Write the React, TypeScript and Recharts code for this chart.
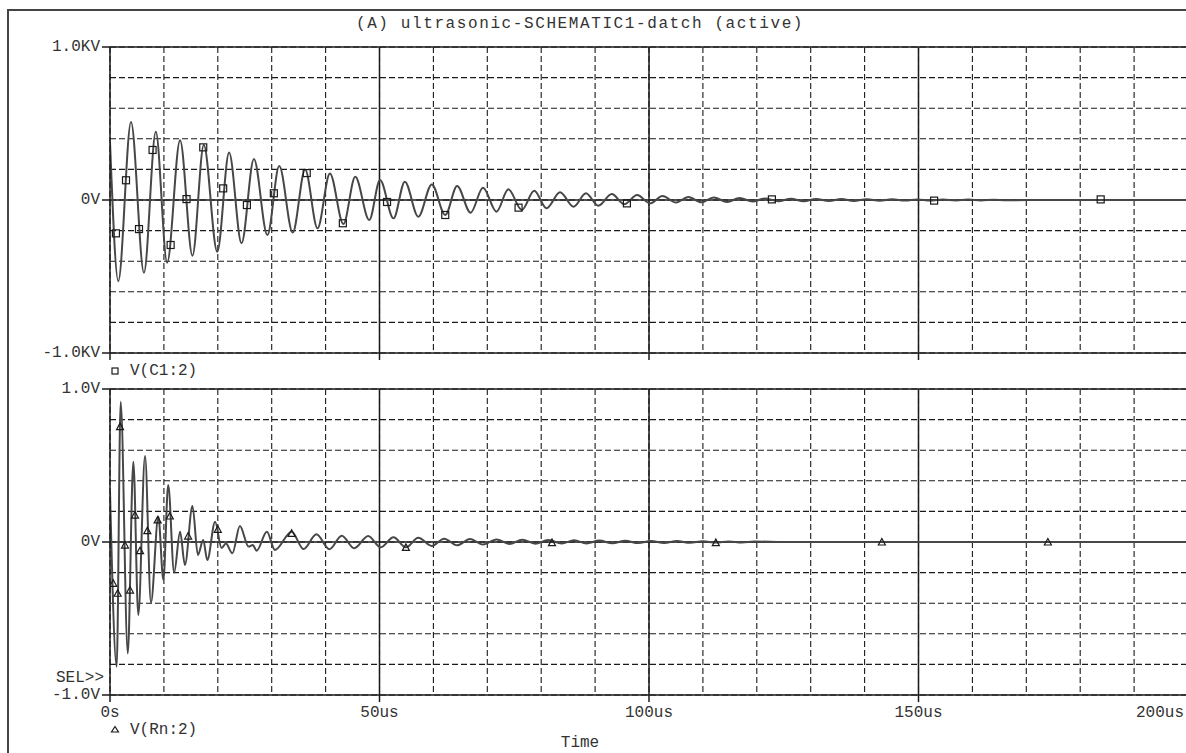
import React from 'react';
import { ComposedChart, Line, Scatter, XAxis, YAxis, CartesianGrid, ReferenceLine } from 'recharts';

// ---------- axis ticks / labels ----------
const timeTicks = [0, 10, 20, 30, 40, 50, 60, 70, 80, 90, 100, 110, 120, 130, 140, 150, 160, 170, 180, 190, 200];
const timeLabels: Record<string, string> = { '0': '0s', '50': '50us', '100': '100us', '150': '150us', '200': '200us' };
const majorTimes = [50, 100, 150];
const voltTicks = [-1, -0.8, -0.6, -0.4, -0.2, 0, 0.2, 0.4, 0.6, 0.8, 1];
const topVoltLabels: Record<string, string> = { '1': '1.0KV', '0': '0V', '-1': '-1.0KV' };
const bottomVoltLabels: Record<string, string> = { '1': '1.0V', '0': '0V', '-1': '-1.0V' };

const titleText = '(A) ultrasonic-SCHEMATIC1-datch (active)';
const topSeriesName = 'V(C1:2)';
const bottomSeriesName = 'V(Rn:2)';
const xAxisName = 'Time';
const selText = 'SEL>>';

// ---------- V(C1:2) in KV, time in us (peaks / troughs) ----------
const c1Times = [0, 1.54, 3.9, 6.3, 8.5, 10.6, 13.0, 15.3, 17.4, 19.9, 22.1, 24.4, 26.7, 29.2, 31.4, 33.9, 36.2, 38.5, 40.8, 43.3, 45.5, 48.1, 50.1, 52.6, 54.7, 57.2, 59.7, 62.2, 64.4, 66.9, 69.2, 71.7, 73.9, 76.4, 78.7, 81.0, 83.5, 86.0, 88.3, 90.6, 93.1, 95.4, 97.8, 100.2, 102.5, 105.0, 107.3, 109.7, 112.0, 114.5, 116.8, 119.2, 121.5, 124.0, 126.3, 128.7, 131.0, 133.4, 135.7, 138.0, 140.4, 142.8, 145.1, 147.5, 149.8, 152.2, 154.5, 156.9, 159.2, 161.6, 163.9, 166.3, 170, 185, 200];
const c1Values = [0.38, -0.53, 0.51, -0.475, 0.446, -0.41, 0.39, -0.364, 0.36, -0.338, 0.31, -0.283, 0.268, -0.229, 0.222, -0.213, 0.2, -0.185, 0.174, -0.157, 0.152, -0.131, 0.131, -0.12, 0.12, -0.109, 0.102, -0.098, 0.091, -0.083, 0.08, -0.076, 0.07, -0.065, 0.061, -0.054, 0.05, -0.044, 0.044, -0.037, 0.039, -0.028, 0.033, -0.022, 0.026, -0.017, 0.02, -0.015, 0.016, -0.013, 0.013, -0.01, 0.01, -0.008, 0.008, -0.008, 0.007, -0.007, 0.006, -0.006, 0.005, -0.005, 0.005, -0.004, 0.004, -0.004, 0.003, -0.003, 0.003, -0.003, 0.002, -0.002, 0, 0, 0];
const c1MarkerTimes = [1.1, 2.97, 5.38, 7.9, 11.25, 14.2, 17.3, 21.0, 25.4, 30.4, 36.5, 43.2, 51.4, 62.2, 75.8, 95.9, 122.8, 152.9, 183.8];
const c1MarkerValues = [-0.218, 0.129, -0.19, 0.327, -0.294, 0.006, 0.344, 0.076, -0.033, 0.044, 0.176, -0.152, -0.013, -0.098, -0.05, -0.022, 0.004, -0.004, 0.004];

// ---------- V(Rn:2) in V ----------
const rnTimes = [0, 1.24, 1.98, 3.3, 4.33, 5.25, 6.5, 7.6, 8.97, 9.9, 10.8, 11.9, 13.0, 13.9, 15.3, 16.3, 17.3, 18.05, 19.5, 20.7, 21.5, 22.7, 24.1, 25.7, 26.5, 27.2, 29.1, 30.6, 33.7, 35.9, 38.3, 40.7, 43.0, 45.3, 47.9, 50.2, 52.6, 54.9, 57.2, 59.7, 62.0, 64.4, 66.8, 69.2, 71.7, 74.1, 76.5, 78.9, 81.3, 83.8, 86.1, 88.4, 90.8, 93.2, 95.6, 98.0, 100.4, 102.8, 105.2, 107.6, 110.0, 112.4, 114.8, 117.2, 119.6, 125, 200];
const rnValues = [0.33, -0.815, 0.917, -0.728, 0.525, -0.477, 0.562, -0.397, 0.166, -0.248, 0.372, -0.2, 0.067, -0.15, 0.235, -0.085, 0.013, -0.118, 0.133, -0.04, -0.01, -0.074, 0.105, -0.03, -0.02, -0.057, 0.067, -0.052, 0.067, -0.046, 0.05, -0.048, 0.041, -0.041, 0.039, -0.035, 0.031, -0.035, 0.028, -0.026, 0.022, -0.022, 0.02, -0.017, 0.017, -0.013, 0.015, -0.011, 0.013, -0.009, 0.011, -0.009, 0.009, -0.008, 0.008, -0.007, 0.007, -0.006, 0.006, -0.005, 0.005, -0.004, 0.004, -0.003, 0.003, 0, 0];
const rnMarkerTimes = [0.6, 1.42, 1.86, 2.78, 3.71, 4.64, 5.57, 6.93, 8.84, 11.1, 14.5, 20.0, 33.7, 54.9, 82.0, 112.4, 143.2, 174.0];
const rnMarkerValues = [-0.27, -0.335, 0.754, -0.02, -0.314, 0.176, -0.057, 0.074, 0.144, 0.17, 0.039, 0.083, 0.057, -0.035, -0.004, -0.004, 0, 0];

const zip = (ts: number[], vs: number[]) => {
  const n = Math.min(ts.length, vs.length);
  const out: { t: number; v: number }[] = [];
  for (let i = 0; i < n; i++) out.push({ t: ts[i], v: vs[i] });
  return out;
};

const c1Data = zip(c1Times, c1Values);
const c1Markers = zip(c1MarkerTimes, c1MarkerValues);
const rnData = zip(rnTimes, rnValues);
const rnMarkers = zip(rnMarkerTimes, rnMarkerValues);

const INK = '#1a1a1a';
const TEXT = '#333';
const FONT = '"Liberation Mono", "DejaVu Sans Mono", monospace';
const FS = 16;

const makeYTick = (labels: Record<string, string>) => (props: any) => {
  const { x, y, payload } = props;
  const label = labels[String(payload.value)];
  if (!label) return <g />;
  return (
    <g>
      <line x1={x - 8} x2={x} y1={y} y2={y} stroke={INK} strokeWidth={1.5} />
      <text x={x - 10} y={y} textAnchor="end" dominantBaseline="central" fontFamily={FONT} fontSize={FS} fill={TEXT}>
        {label}
      </text>
    </g>
  );
};

const topXTick = (props: any) => {
  const { x, y, payload } = props;
  if (payload.value % 50 !== 0) return <g />;
  return <line x1={x} x2={x} y1={y} y2={y + 7} stroke={INK} strokeWidth={1.5} />;
};

const bottomXTick = (props: any) => {
  const { x, y, payload } = props;
  const label = timeLabels[String(payload.value)];
  if (!label) return <g />;
  const isLast = payload.value === 200;
  return (
    <g>
      <line x1={x} x2={x} y1={y} y2={y + 7} stroke={INK} strokeWidth={1.5} />
      <text x={isLast ? 1184 : x} y={y + 18} textAnchor={isLast ? 'end' : 'middle'} dominantBaseline="central" fontFamily={FONT} fontSize={FS} fill={TEXT}>
        {label}
      </text>
    </g>
  );
};

const squareShape = (props: any) => {
  const { cx, cy } = props;
  return <rect x={cx - 3.5} y={cy - 3.5} width={7} height={7} fill="none" stroke={INK} strokeWidth={1.2} />;
};

const triangleShape = (props: any) => {
  const { cx, cy } = props;
  return <path d={`M${cx - 3.5},${cy + 3} L${cx + 3.5},${cy + 3} L${cx},${cy - 3.5} Z`} fill="none" stroke={INK} strokeWidth={1.2} />;
};

const Panel = ({ top, xAxisHeight, data, markers, labels, xTick, shape }: any) => (
  <ComposedChart width={1200} height={top + 306 + xAxisHeight} margin={{ top, right: 12, left: 0, bottom: 0 }}>
    <CartesianGrid stroke={INK} strokeDasharray="6 3" strokeWidth={1.1} fill="none" />
    <XAxis
      dataKey="t"
      type="number"
      domain={[0, 200]}
      ticks={timeTicks}
      interval={0}
      height={xAxisHeight}
      tickSize={0}
      tickMargin={0}
      tickLine={false}
      axisLine={{ stroke: INK, strokeWidth: 1.5 }}
      tick={xTick}
      allowDataOverflow
    />
    <YAxis
      dataKey="v"
      type="number"
      domain={[-1, 1]}
      ticks={voltTicks}
      interval={0}
      width={110}
      tickSize={0}
      tickMargin={0}
      tickLine={false}
      axisLine={{ stroke: INK, strokeWidth: 1.5 }}
      tick={makeYTick(labels)}
      allowDataOverflow
    />
    {majorTimes.map((m) => (
      <ReferenceLine key={m} x={m} stroke={INK} strokeWidth={1.5} />
    ))}
    <ReferenceLine y={0} stroke={INK} strokeWidth={1.5} />
    <ReferenceLine y={1} stroke={INK} strokeWidth={1.5} />
    <Line
      data={data}
      dataKey="v"
      type="monotone"
      stroke="#474747"
      strokeWidth={2}
      dot={false}
      activeDot={false}
      isAnimationActive={false}
    />
    <Scatter data={markers} dataKey="v" shape={shape} isAnimationActive={false} />
  </ComposedChart>
);

export default function App() {
  return (
    <div
      style={{
        position: 'fixed',
        left: 0,
        top: 0,
        width: 1186,
        height: 753,
        overflow: 'hidden',
        background: '#fff',
      }}
    >
      <div style={{ position: 'absolute', left: 7, top: 9, width: 1300, height: 900, border: `2px solid #444` }} />
      <div style={{ position: 'absolute', left: 0, top: 0 }}>
        <Panel top={47} xAxisHeight={10} data={c1Data} markers={c1Markers} labels={topVoltLabels} xTick={topXTick} shape={squareShape} />
      </div>
      <div style={{ position: 'absolute', left: 0, top: 0 }}>
        <Panel top={389} xAxisHeight={30} data={rnData} markers={rnMarkers} labels={bottomVoltLabels} xTick={bottomXTick} shape={triangleShape} />
      </div>
      <svg width={1186} height={753} style={{ position: 'absolute', left: 0, top: 0, pointerEvents: 'none' }}>
        <text x={580} y={24} textAnchor="middle" dominantBaseline="central" fontFamily={FONT} fontSize={FS} fill={TEXT} letterSpacing={1.6}>
          {titleText}
        </text>
        <rect x={112} y={368} width={6} height={6} fill="none" stroke={INK} strokeWidth={1.2} />
        <text x={130} y={371} dominantBaseline="central" fontFamily={FONT} fontSize={FS} fill={TEXT}>
          {topSeriesName}
        </text>
        <text x={104} y={678} textAnchor="end" dominantBaseline="central" fontFamily={FONT} fontSize={FS} fill={TEXT}>
          {selText}
        </text>
        <path d="M111.5,732 L118.5,732 L115,726.5 Z" fill="none" stroke={INK} strokeWidth={1.2} />
        <text x={130} y={730} dominantBaseline="central" fontFamily={FONT} fontSize={FS} fill={TEXT}>
          {bottomSeriesName}
        </text>
        <text x={580} y={743} textAnchor="middle" dominantBaseline="central" fontFamily={FONT} fontSize={FS} fill={TEXT}>
          {xAxisName}
        </text>
      </svg>
    </div>
  );
}
